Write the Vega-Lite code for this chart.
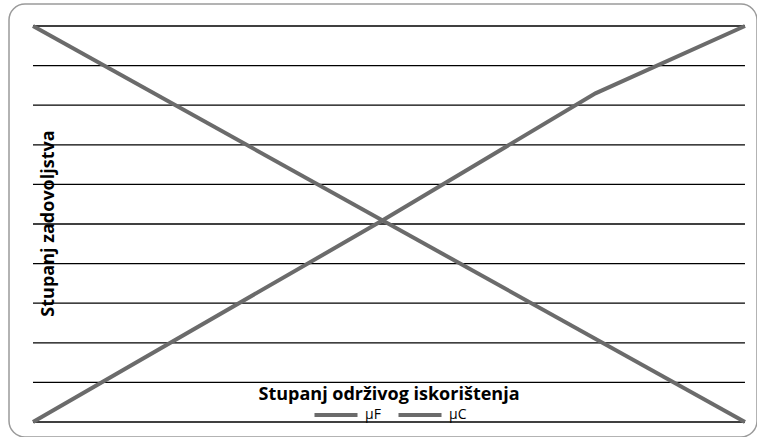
{
  "$schema": "https://vega.github.io/schema/vega-lite/v6.json",
  "autosize": {"type": "none"},
  "padding": {"left": 9, "top": 4, "right": 0, "bottom": 0},
  "width": 748,
  "height": 433,
  "background": "white",
  "config": {
    "view": {"stroke": "#9a9a9a", "strokeWidth": 1.5, "cornerRadius": 16},
    "font": "Open Sans"
  },
  "datasets": {
    "grid": [
      {"y": 0}, {"y": 0.1}, {"y": 0.2}, {"y": 0.3}, {"y": 0.4}, {"y": 0.5},
      {"y": 0.6}, {"y": 0.7}, {"y": 0.8}, {"y": 0.9}, {"y": 1}
    ],
    "lines": [
      {"series": "μF", "x": 0, "y": 1},
      {"series": "μF", "x": 1, "y": 0},
      {"series": "μC", "x": 0, "y": 0},
      {"series": "μC", "x": 0.49, "y": 0.508},
      {"series": "μC", "x": 0.79, "y": 0.83},
      {"series": "μC", "x": 1, "y": 1}
    ]
  },
  "layer": [
    {
      "data": {"name": "grid"},
      "mark": {"type": "rule", "color": "#000000", "strokeWidth": 1.3},
      "encoding": {
        "x": {"datum": 0, "type": "quantitative"},
        "x2": {"datum": 1},
        "y": {"field": "y", "type": "quantitative"}
      }
    },
    {
      "data": {"name": "lines"},
      "mark": {"type": "line", "strokeWidth": 4},
      "encoding": {
        "x": {
          "field": "x", "type": "quantitative",
          "scale": {"domain": [-0.0337, 1.0169], "nice": false, "zero": false},
          "axis": {
            "title": "Stupanj održivog iskorištenja",
            "labels": false, "ticks": false, "domain": false, "grid": false,
            "titleFont": "Open Sans", "titleFontSize": 18, "titleFontWeight": "bold", "titleColor": "#000000",
            "titleX": 379.5, "titleY": -43, "titleBaseline": "middle", "titleAlign": "center"
          }
        },
        "y": {
          "field": "y", "type": "quantitative",
          "scale": {"domain": [-0.0379, 1.0556], "nice": false, "zero": false},
          "axis": {
            "title": "Stupanj zadovoljstva",
            "labels": false, "ticks": false, "domain": false, "grid": false,
            "titleFont": "Open Sans", "titleFontSize": 18, "titleFontWeight": "bold", "titleColor": "#000000",
            "titleAngle": -90, "titleX": 39, "titleY": 219, "titleBaseline": "middle", "titleAlign": "center"
          }
        },
        "color": {
          "field": "series", "type": "nominal",
          "scale": {"domain": ["μF", "μC"], "range": ["#6b6b6b", "#6b6b6b"]},
          "legend": {
            "title": null, "orient": "none", "direction": "horizontal",
            "legendX": 303, "legendY": 387,
            "symbolType": "stroke", "symbolStrokeWidth": 4, "symbolSize": 1850,
            "labelFont": "Open Sans", "labelFontSize": 14, "labelColor": "#000000",
            "columnPadding": 9, "labelOffset": 5
          }
        }
      }
    }
  ]
}
